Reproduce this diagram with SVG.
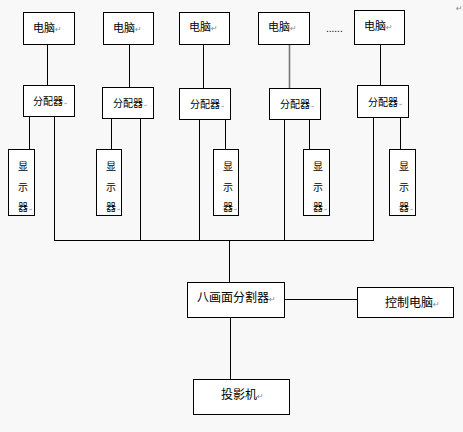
<svg xmlns="http://www.w3.org/2000/svg" width="463" height="432" viewBox="0 0 463 432">
<style>
.bx{fill:#ffffff;stroke:#000;stroke-width:1}
.ln{stroke:#000;stroke-width:1;fill:none}
.t{font-family:"Noto Sans CJK SC","Noto Sans CJK JP",sans-serif;fill:#000}
.pc{font-size:11px}
.sp{font-size:10px}
.big{font-size:12px}
.pm{font-family:"DejaVu Sans",sans-serif;fill:#8a8a8a;font-size:8px}
.pm2{font-family:"DejaVu Sans",sans-serif;fill:#8a8a8a;font-size:4px}
</style>
<rect width="463" height="432" fill="#f8f8f8"/>
<g id="connectors">
<path class="ln" d="M47.5 44V85M129.5 44V87M203.5 44V88M380.5 44V85"/>
<path d="M289.5 44V88" stroke="#777" stroke-width="1.6" fill="none"/>
<path class="ln" d="M29.5 116V149M111.5 118V149M225.5 119V149M309.5 119V149M400.5 117V149"/>
<path class="ln" d="M54.5 116V240.5M140.5 118V240.5M199.5 119V240.5M284.5 119V240.5M373.5 117V240.5M54 240.5H374"/>
<path class="ln" d="M229.5 240V282M284 299.5H357M230.5 317V379"/>
</g>
<g id="pc1"><rect class="bx" x="23.5" y="12.5" width="51" height="32"/><text class="t pc" x="33" y="32">电脑<tspan class="pm">↵</tspan></text></g>
<g id="pc2"><rect class="bx" x="103.5" y="12.5" width="50" height="32"/><text class="t pc" x="113" y="32">电脑<tspan class="pm">↵</tspan></text></g>
<g id="pc3"><rect class="bx" x="179.5" y="12.5" width="50" height="32"/><text class="t pc" x="189" y="31">电脑<tspan class="pm">↵</tspan></text></g>
<g id="pc4"><rect class="bx" x="258.5" y="12.5" width="51" height="32"/><text class="t pc" x="268" y="31">电脑<tspan class="pm">↵</tspan></text></g>
<g id="pc5"><rect class="bx" x="354.5" y="10.5" width="50" height="34"/><text class="t pc" x="364" y="30">电脑<tspan class="pm">↵</tspan></text></g>
<g id="dots"><text x="326" y="32" font-family="Liberation Sans, sans-serif" font-size="10" fill="#000">......</text></g>
<g id="mark"><text class="pm" x="456" y="11">↵</text></g>
<g id="sp1"><rect class="bx" x="23.5" y="85.5" width="51" height="31"/><text class="t sp" x="33" y="105">分配器<tspan class="pm2" dx="1">↵</tspan></text></g>
<g id="sp2"><rect class="bx" x="102.5" y="87.5" width="51" height="31"/><text class="t sp" x="113" y="107">分配器<tspan class="pm2" dx="1">↵</tspan></text></g>
<g id="sp3"><rect class="bx" x="179.5" y="88.5" width="51" height="31"/><text class="t sp" x="190" y="107.5">分配器<tspan class="pm2" dx="1">↵</tspan></text></g>
<g id="sp4"><rect class="bx" x="269.5" y="88.5" width="51" height="31"/><text class="t sp" x="280" y="107.5">分配器<tspan class="pm2" dx="1">↵</tspan></text></g>
<g id="sp5"><rect class="bx" x="357.5" y="85.5" width="51" height="32"/><text class="t sp" x="368" y="106">分配器<tspan class="pm2" dx="1">↵</tspan></text></g>
<g id="mon1"><rect class="bx" x="8.5" y="149.5" width="26" height="66"/><text class="t sp" x="18" y="170">显</text><text class="t sp" x="18" y="191">示</text><text class="t sp" x="18" y="211">器<tspan class="pm2" dx="1">↵</tspan></text></g>
<g id="mon2"><rect class="bx" x="96.5" y="149.5" width="25" height="66"/><text class="t sp" x="106" y="170">显</text><text class="t sp" x="106" y="191">示</text><text class="t sp" x="106" y="211">器<tspan class="pm2" dx="1">↵</tspan></text></g>
<g id="mon3"><rect class="bx" x="213.5" y="149.5" width="25" height="66"/><text class="t sp" x="223" y="170">显</text><text class="t sp" x="223" y="191">示</text><text class="t sp" x="223" y="211">器<tspan class="pm2" dx="1">↵</tspan></text></g>
<g id="mon4"><rect class="bx" x="303.5" y="149.5" width="26" height="66"/><text class="t sp" x="313" y="170">显</text><text class="t sp" x="313" y="191">示</text><text class="t sp" x="313" y="211">器<tspan class="pm2" dx="1">↵</tspan></text></g>
<g id="mon5"><rect class="bx" x="389.5" y="149.5" width="26" height="66"/><text class="t sp" x="399" y="170">显</text><text class="t sp" x="399" y="191">示</text><text class="t sp" x="399" y="211">器<tspan class="pm2" dx="1">↵</tspan></text></g>
<g id="octa"><rect class="bx" x="187.5" y="282.5" width="97" height="35"/><text class="t big" x="197" y="302">八画面分割器<tspan class="pm">↵</tspan></text></g>
<g id="ctrl"><rect class="bx" x="357.5" y="287.5" width="96" height="30"/><text class="t big" x="385" y="307">控制电脑<tspan class="pm">↵</tspan></text></g>
<g id="proj"><rect class="bx" x="193.5" y="379.5" width="96" height="35"/><text class="t big" x="221" y="399">投影机<tspan class="pm">↵</tspan></text></g>
</svg>
